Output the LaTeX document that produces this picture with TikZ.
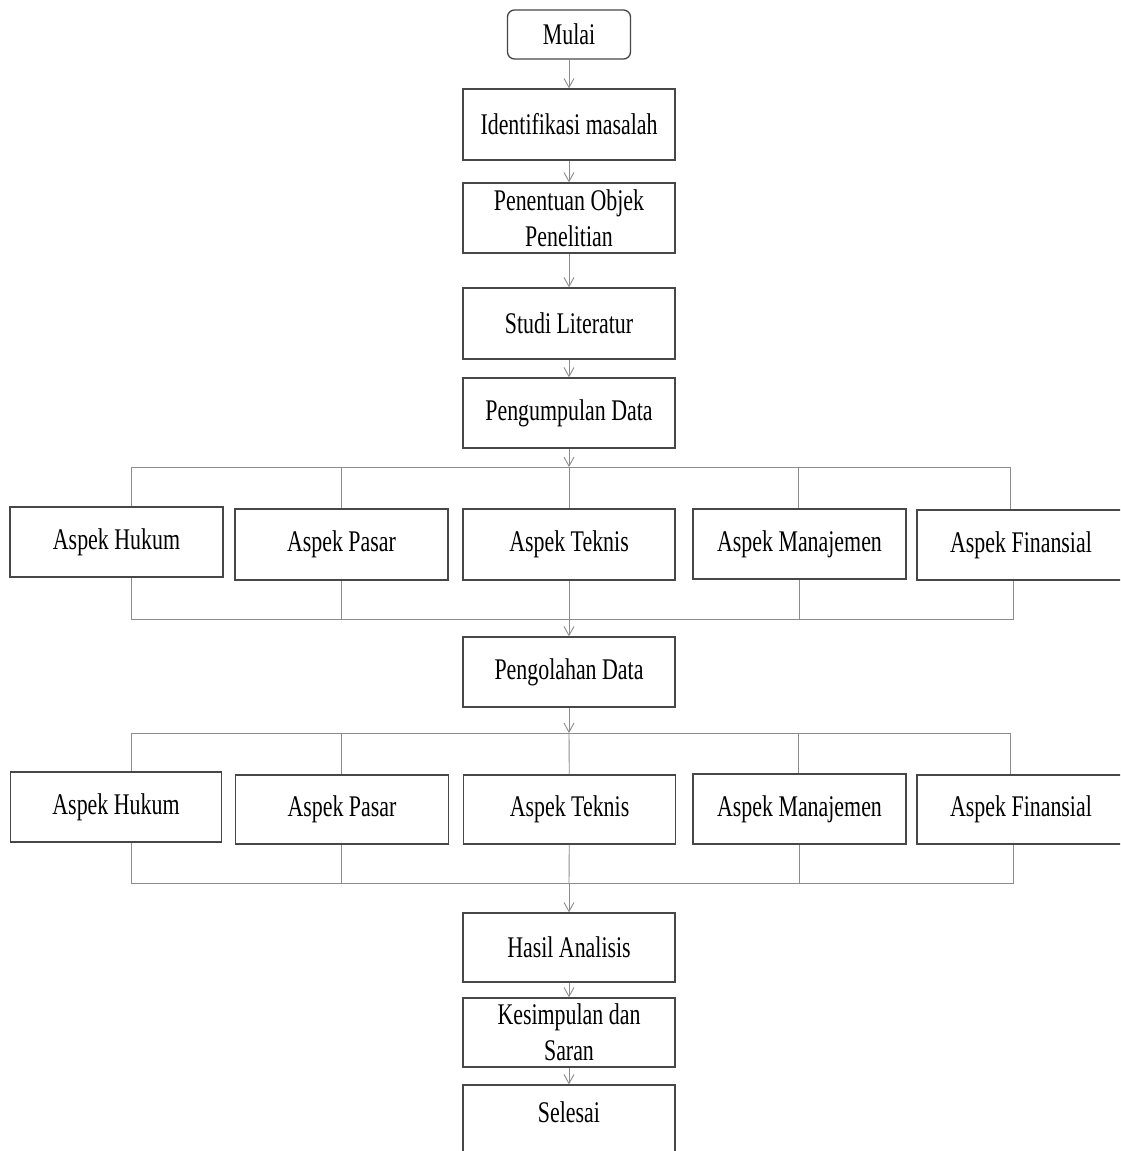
\documentclass[tikz,border=0pt]{standalone}
\usepackage{fontspec}
\setmainfont{Liberation Serif}[FakeStretch=0.73]
\usetikzlibrary{arrows.meta}
\begin{document}
\begin{tikzpicture}[x=1pt,y=-1pt,
  box/.style={draw=black!72, line width=1.3pt, rectangle, align=center, inner sep=0pt,
    minimum width=212pt, minimum height=70pt, font=\fontsize{30}{36}\selectfont},
  conn/.style={draw=black!45, line width=0.9pt},
  arr/.style={conn, -{Straight Barb[length=9pt,width=10pt,line width=0.9pt]}}]
\useasboundingbox (0,0) rectangle (1120,1151);
\clip (0,0) rectangle (1120,1151);
\fill[white] (0,0) rectangle (1120,1151);

% main column
\node[box, rounded corners=7pt, minimum width=123pt, minimum height=49pt] (mulai) at (569,34.5) {Mulai};
\node[box, minimum height=71pt] (ident) at (569,124.5) {Identifikasi masalah};
\node[box] (objek) at (569,218) {Penentuan Objek\\Penelitian};
\node[box, minimum height=71pt] (studi) at (569,323.5) {Studi Literatur};
\node[box] (kumpul) at (569,413) {Pengumpulan Data};
\node[box] (olah) at (569,672) {Pengolahan Data};
\node[box, minimum height=69pt] (hasil) at (569,947.5) {Hasil Analisis};
\node[box, minimum height=69pt] (simpul) at (569,1032.5) {Kesimpulan dan\\Saran};
\node[box, minimum height=75pt] (selesai) at (569,1122.5) {\raisebox{10pt}[\height][\depth]{Selesai}};

% row 1
\node[box, minimum width=213pt] (hk1) at (116.5,542) {Aspek Hukum};
\node[box, minimum width=213pt, minimum height=71pt] (ps1) at (341.5,544.5) {Aspek Pasar};
\node[box, minimum height=71pt] (tk1) at (569,544.5) {Aspek Teknis};
\node[box, minimum width=213pt] (mj1) at (799.5,544) {Aspek Manajemen};
\node[box, minimum width=208pt] (fn1) at (1021,545) {Aspek Finansial};

% row 2
\node[box, minimum width=211pt] (hk2) at (116,807) {Aspek Hukum};
\node[box, minimum width=213pt, minimum height=69pt] (ps2) at (342,809.5) {Aspek Pasar};
\node[box, minimum height=69pt] (tk2) at (569.5,809.5) {Aspek Teknis};
\node[box, minimum width=213pt] (mj2) at (799.5,809) {Aspek Manajemen};
\node[box, minimum width=208pt, minimum height=69pt] (fn2) at (1021,809.5) {Aspek Finansial};

% bus coordinates
\coordinate (b1) at (569,467);
\coordinate (b2) at (569,619);
\coordinate (b3) at (569,733);
\coordinate (b4) at (569,883);
\coordinate (xh) at (131,0);
\coordinate (xp) at (341,0);
\coordinate (xm) at (798,0);
\coordinate (xf) at (1010,0);

% column arrows
\draw[arr] (mulai) -- (ident);
\draw[arr] (ident) -- (objek);
\draw[arr] (objek) -- (studi);
\draw[arr] (studi) -- (kumpul);
\draw[arr] (kumpul) -- (b1);
\draw[arr] (b2) -- (olah);
\draw[arr] (olah) -- (b3);
\draw[arr] (b4) -- (hasil);
\draw[arr] (hasil) -- (simpul);
\draw[arr] (simpul) -- (selesai);

% split 1
\draw[conn] (xh |- hk1.north) -- (xh |- b1) -- (xf |- b1) -- (xf |- fn1.north);
\draw[conn] (xp |- b1) -- (xp |- ps1.north);
\draw[conn] (b1) -- (tk1);
\draw[conn] (xm |- b1) -- (xm |- mj1.north);
% merge 1
\draw[conn] (xh |- hk1.south) -- (xh |- b2) -- ([xshift=3pt]xf |- b2) -- ([xshift=3pt]xf |- fn1.south);
\draw[conn] (xp |- ps1.south) -- (xp |- b2);
\draw[conn] (tk1) -- (b2);
\draw[conn] ([xshift=1pt]xm |- mj1.south) -- ([xshift=1pt]xm |- b2);

% split 2
\draw[conn] (xh |- hk2.north) -- (xh |- b3) -- (xf |- b3) -- (xf |- fn2.north);
\draw[conn] (xp |- b3) -- (xp |- ps2.north);
\draw[conn] (b3) -- (tk2);
\draw[conn] (xm |- b3) -- (xm |- mj2.north);
% merge 2
\draw[conn] (xh |- hk2.south) -- (xh |- b4) -- ([xshift=3pt]xf |- b4) -- ([xshift=3pt]xf |- fn2.south);
\draw[conn] (xp |- ps2.south) -- (xp |- b4);
\draw[conn] (tk2) -- (b4);
\draw[conn] ([xshift=1pt]xm |- mj2.south) -- ([xshift=1pt]xm |- b4);
\end{tikzpicture}
\end{document}
